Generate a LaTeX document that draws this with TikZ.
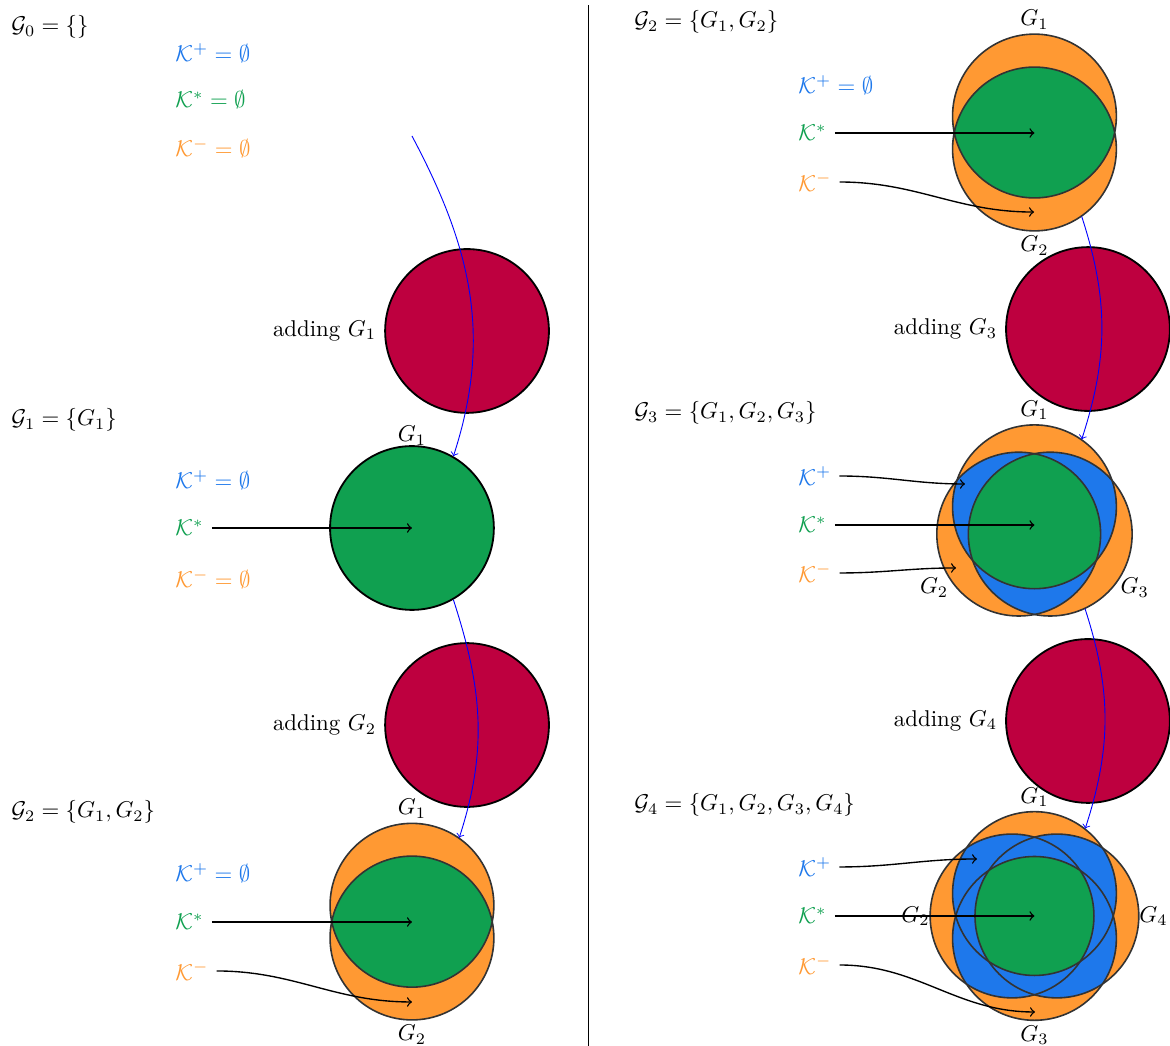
\documentclass[tikz,border=0pt]{standalone}
\usetikzlibrary{positioning,calc}

\definecolor{kplus}{RGB}{30,120,235}
\definecolor{kstar}{RGB}{16,160,80}
\definecolor{kminus}{RGB}{255,153,51}
\definecolor{addred}{RGB}{190,0,63}
\def\rad{1.26}

\begin{document}
\begin{tikzpicture}[
    gname/.style={anchor=west},
    klabel/.style={anchor=west},
    addcircle/.style={circle, draw, line width=0.8pt, fill=addred, minimum size=2.52cm, inner sep=0pt},
    setcircle/.style={circle, minimum size=2.52cm, inner sep=0pt},
    venn/.style={draw=black!80, line width=0.7pt},
    ptr/.style={->, semithick},
    flow/.style={->, blue},
    toplbl/.style={label distance=-1.5pt},
    sidelbl/.style={label distance=-3.5pt},
    slantlbl/.style={label distance=-4.5pt},
  ]
  \useasboundingbox (0,0) rectangle (18,-16.092);

  % Separator
  \draw (9.046,-0.077) -- (9.046,-16.092);

  % Panel G0
  \node[gname] (g0name) at (0.052,-0.415) {$\mathcal{G}_0 = \{\}$};
  \node[klabel, text=kplus] (k0plus) at (2.575,-0.815) {$\mathcal{K}^+ = \emptyset$};
  \node[klabel, text=kstar] (k0star) at (2.575,-1.538) {$\mathcal{K}^* = \emptyset$};
  \node[klabel, text=kminus] (k0minus) at (2.575,-2.277) {$\mathcal{K}^- = \emptyset$};
  \coordinate (g0out) at (6.338,-2.092);

  % Adding G1
  \node[addcircle] (add1) at (7.185,-5.092) {};
  \node[left=0pt of add1] (add1lbl) {adding $G_1$};

  % Panel G1
  \node[gname] (g1name) at (0.052,-6.462) {$\mathcal{G}_1 = \{G_1\}$};
  \node[klabel, text=kplus] (k1plus) at (2.575,-7.385) {$\mathcal{K}^+ = \emptyset$};
  \node[klabel, text=kstar] (k1star) at (2.575,-8.123) {$\mathcal{K}^*$};
  \node[klabel, text=kminus] (k1minus) at (2.575,-8.908) {$\mathcal{K}^- = \emptyset$};
  \node[setcircle, draw, line width=0.8pt, fill=kstar,
        label={[sidelbl]above:$G_1$}] (g1c) at (6.338,-8.123) {};
  \draw[ptr] (k1star.east) -- (g1c.center);

  % Adding G2
  \node[addcircle] (add2) at (7.185,-11.154) {};
  \node[left=0pt of add2] (add2lbl) {adding $G_2$};

  % Panel G2 (left)
  \node[gname] (g2name) at (0.052,-12.492) {$\mathcal{G}_2 = \{G_1, G_2\}$};
  \node[klabel, text=kplus] (k2plus) at (2.575,-13.431) {$\mathcal{K}^+ = \emptyset$};
  \node[klabel, text=kstar] (k2star) at (2.575,-14.185) {$\mathcal{K}^*$};
  \node[klabel, text=kminus] (k2minus) at (2.575,-14.938) {$\mathcal{K}^-$};
  \coordinate (s2mid) at (6.338,-14.185);
  \node[setcircle, label={[toplbl]above:$G_1$}] (s2a) at (6.338,-13.927) {};
  \node[setcircle, label={[toplbl]below:$G_2$}] (s2b) at (6.338,-14.431) {};
  \coordinate (t2minus) at (6.338,-15.415);
  \fill[kminus] (s2a.center) circle (\rad) (s2b.center) circle (\rad);
  \begin{scope}
    \clip (s2a.center) circle (\rad);
    \fill[kstar] (s2b.center) circle (\rad);
  \end{scope}
  \draw[venn] (s2a.center) circle (\rad) (s2b.center) circle (\rad);
  \draw[ptr] (k2star.east) -- (s2mid);
  \draw[ptr] (k2minus.east) to[out=0, in=180] (t2minus);

  % Panel G2 (right)
  \node[gname] (r2name) at (9.637,-0.338) {$\mathcal{G}_2 = \{G_1, G_2\}$};
  \node[klabel, text=kplus] (r2plus) at (12.16,-1.308) {$\mathcal{K}^+ = \emptyset$};
  \node[klabel, text=kstar] (r2star) at (12.16,-2.046) {$\mathcal{K}^*$};
  \node[klabel, text=kminus] (r2minus) at (12.16,-2.8) {$\mathcal{K}^-$};
  \coordinate (r2mid) at (15.915,-2.046);
  \node[setcircle, label={[toplbl]above:$G_1$}] (r2a) at (15.915,-1.785) {};
  \node[setcircle, label={[toplbl]below:$G_2$}] (r2b) at (15.915,-2.292) {};
  \coordinate (u2minus) at (15.908,-3.262);
  \fill[kminus] (r2a.center) circle (\rad) (r2b.center) circle (\rad);
  \begin{scope}
    \clip (r2a.center) circle (\rad);
    \fill[kstar] (r2b.center) circle (\rad);
  \end{scope}
  \draw[venn] (r2a.center) circle (\rad) (r2b.center) circle (\rad);
  \draw[ptr] (r2star.east) -- (r2mid);
  \draw[ptr] (r2minus.east) to[out=0, in=180] (u2minus);

  % Adding G3
  \node[addcircle] (add3) at (16.738,-5.062) {};
  \node[left=0pt of add3] (add3lbl) {adding $G_3$};

  % Panel G3
  \node[gname] (r3name) at (9.637,-6.354) {$\mathcal{G}_3 = \{G_1, G_2, G_3\}$};
  \node[klabel, text=kplus] (r3plus) at (12.16,-7.323) {$\mathcal{K}^+$};
  \node[klabel, text=kstar] (r3star) at (12.16,-8.077) {$\mathcal{K}^*$};
  \node[klabel, text=kminus] (r3minus) at (12.16,-8.815) {$\mathcal{K}^-$};
  \coordinate (r3mid) at (15.915,-8.077);
  \node[setcircle, label={[toplbl]above:$G_1$}] (r3a) at ($(r3mid)+(90:0.28)$) {};
  \node[setcircle, label={[slantlbl]210:$G_2$}] (r3b) at ($(r3mid)+(210:0.28)$) {};
  \node[setcircle, label={[slantlbl]330:$G_3$}] (r3c) at ($(r3mid)+(330:0.28)$) {};
  \coordinate (u3plus) at (14.846,-7.446);
  \coordinate (u3minus) at (14.708,-8.738);
  \foreach \c in {r3a, r3b, r3c}
    \fill[kminus] (\c.center) circle (\rad);
  \foreach \p/\q in {r3a/r3b, r3a/r3c, r3b/r3c} {
    \begin{scope}
      \clip (\p.center) circle (\rad);
      \fill[kplus] (\q.center) circle (\rad);
    \end{scope}
  }
  \begin{scope}
    \clip (r3a.center) circle (\rad);
    \clip (r3b.center) circle (\rad);
    \fill[kstar] (r3c.center) circle (\rad);
  \end{scope}
  \foreach \c in {r3a, r3b, r3c}
    \draw[venn] (\c.center) circle (\rad);
  \draw[ptr] (r3plus.east) to[out=0, in=180] (u3plus);
  \draw[ptr] (r3star.east) -- (r3mid);
  \draw[ptr] (r3minus.east) to[out=0, in=180] (u3minus);

  % Adding G4
  \node[addcircle] (add4) at (16.738,-11.092) {};
  \node[left=0pt of add4] (add4lbl) {adding $G_4$};

  % Panel G4
  \node[gname] (r4name) at (9.637,-12.385) {$\mathcal{G}_4 = \{G_1, G_2, G_3, G_4\}$};
  \node[klabel, text=kplus] (r4plus) at (12.16,-13.338) {$\mathcal{K}^+$};
  \node[klabel, text=kstar] (r4star) at (12.16,-14.092) {$\mathcal{K}^*$};
  \node[klabel, text=kminus] (r4minus) at (12.16,-14.846) {$\mathcal{K}^-$};
  \coordinate (r4mid) at (15.915,-14.092);
  \node[setcircle, label={[toplbl]above:$G_1$}] (r4a) at ($(r4mid)+(90:0.345)$) {};
  \node[setcircle, label={[sidelbl]left:$G_2$}] (r4b) at ($(r4mid)+(180:0.345)$) {};
  \node[setcircle, label={[toplbl]below:$G_3$}] (r4c) at ($(r4mid)+(270:0.345)$) {};
  \node[setcircle, label={[sidelbl]right:$G_4$}] (r4d) at ($(r4mid)+(0:0.345)$) {};
  \coordinate (u4plus) at (15.031,-13.215);
  \coordinate (u4minus) at (15.923,-15.569);
  \foreach \c in {r4a, r4b, r4c, r4d}
    \fill[kminus] (\c.center) circle (\rad);
  \foreach \p/\q in {r4a/r4b, r4a/r4c, r4a/r4d, r4b/r4c, r4b/r4d, r4c/r4d} {
    \begin{scope}
      \clip (\p.center) circle (\rad);
      \fill[kplus] (\q.center) circle (\rad);
    \end{scope}
  }
  \begin{scope}
    \clip (r4a.center) circle (\rad);
    \clip (r4b.center) circle (\rad);
    \clip (r4c.center) circle (\rad);
    \fill[kstar] (r4d.center) circle (\rad);
  \end{scope}
  \foreach \c in {r4a, r4b, r4c, r4d}
    \draw[venn] (\c.center) circle (\rad);
  \draw[ptr] (r4plus.east) to[out=0, in=180] (u4plus);
  \draw[ptr] (r4star.east) -- (r4mid);
  \draw[ptr] (r4minus.east) to[out=0, in=180] (u4minus);

  % Steps between panels
  \draw[flow] (g0out) to[out=-62, in=72] (g1c.60);
  \draw[flow] (g1c.-60) to[out=-72, in=72] (s2a.55);
  \draw[flow] (r2b.-55) to[out=-72, in=72] (r3a.55);
  \draw[flow] (r3c.-65) to[out=-72, in=72] (r4a.52);
\end{tikzpicture}
\end{document}
